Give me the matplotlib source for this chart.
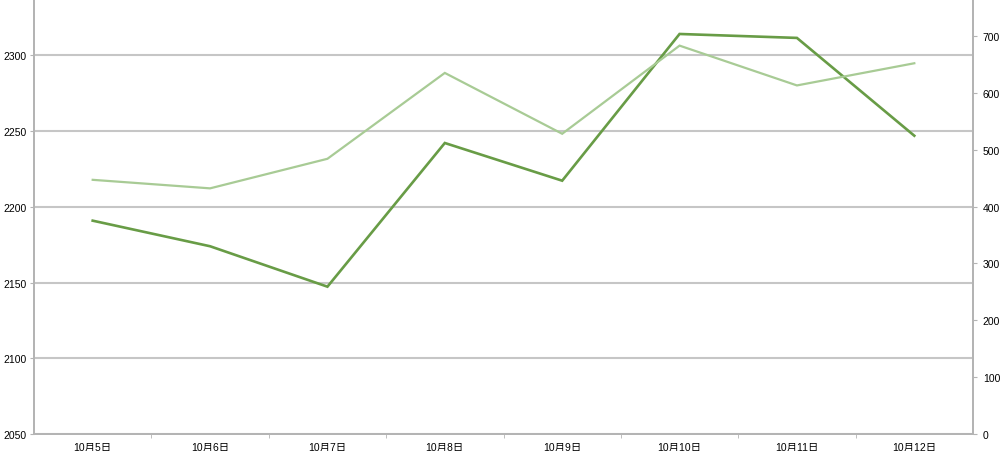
import numpy as np
import matplotlib
matplotlib.use('Agg')
import matplotlib.pyplot as plt
from matplotlib.ticker import FixedLocator

plt.rcParams['font.family'] = ['Liberation Sans', 'Noto Sans CJK SC', 'DejaVu Sans']

# 数据
dates = ['10月5日', '10月6日', '10月7日', '10月8日', '10月9日', '10月10日', '10月11日', '10月12日']
index_vals = [2190.9, 2174.0, 2147.3, 2242.2, 2217.3, 2314.2, 2311.6, 2247.0]   # 左轴
volume_vals = [447, 432, 484, 635, 528, 683, 613, 652]                           # 右轴
left_ticks = [2050, 2100, 2150, 2200, 2250, 2300]
right_ticks = [0, 100, 200, 300, 400, 500, 600, 700]

dark = '#689c46'
light = '#a8cb95'
axis_col = '#b4b4b4'
grid_col = '#c6c6c6'

fig = plt.figure(figsize=(10.06, 4.52), dpi=100)
ax = fig.add_axes([34 / 1006, 17 / 452, 939 / 1006, 435 / 452])
ax2 = ax.twinx()

x = np.arange(len(dates))
ax.plot(x, index_vals, color=dark, lw=1.9, zorder=3, solid_joinstyle='miter')
ax2.plot(x, volume_vals, color=light, lw=1.6, zorder=3, solid_joinstyle='miter')

ax.set_xlim(-0.5, len(dates) - 0.5)
ax.set_ylim(2050, 2337.3)
ax2.set_ylim(0, 765)

# 网格线
ax.set_yticks(left_ticks)
ax.yaxis.grid(True, color=grid_col, lw=1.5)
ax.set_axisbelow(True)
ax2.set_yticks(right_ticks)

# x 轴：标签在中间，刻度在边界
ax.set_xticks(x)
ax.set_xticklabels(dates)
ax.xaxis.set_minor_locator(FixedLocator(np.arange(0.5, len(dates) - 0.5, 1)))
ax.tick_params(axis='x', which='major', length=0, pad=6, labelsize=7.5)
ax.tick_params(axis='x', which='minor', length=3, color=axis_col, direction='out')

ax.tick_params(axis='y', length=3, color=axis_col, labelsize=7.5, pad=2)
ax2.tick_params(axis='y', length=3, color=axis_col, labelsize=7.5, pad=4)

for a in (ax, ax2):
    a.spines['top'].set_visible(False)
    for s in ('left', 'right', 'bottom'):
        a.spines[s].set_color(axis_col)
        a.spines[s].set_linewidth(1.3)

fig.savefig('out.png', dpi=100)
